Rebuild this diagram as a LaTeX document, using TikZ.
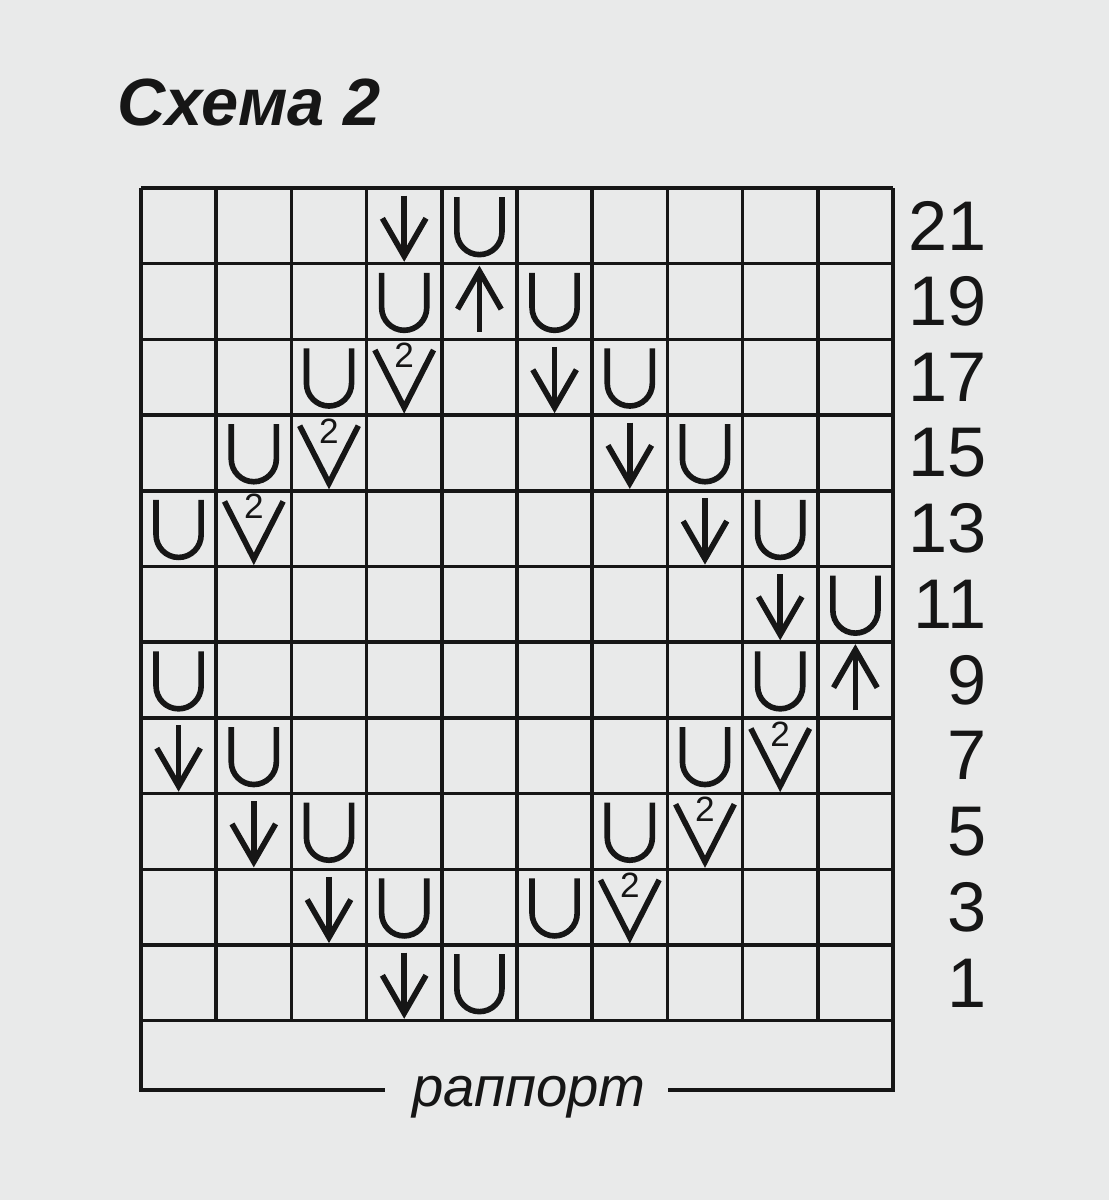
\documentclass[tikz,border=0pt]{standalone}
\usepackage{fontspec}
\setmainfont{Liberation Sans}
\definecolor{paper}{RGB}{233,234,234}
\definecolor{ink}{RGB}{22,22,22}
\tikzset{
  cell/.style={draw=ink, line width=1pt},
  sym/.style={draw=ink, line width=1.6pt},
  rownum/.style={anchor=east, inner sep=0pt, text=ink, font=\fontsize{20}{24}\selectfont},
  pics/yo/.style={code={
    \draw[sym] (-0.3,-0.38) -- (-0.3,0.08)
      arc[start angle=180, end angle=0, x radius=0.3, y radius=0.3] -- (0.3,-0.38);}},
  pics/dn/.style={code={
    \draw[sym] (0,-0.4) -- (0,0.4);
    \draw[sym] (-0.29,-0.1) -- (0,0.4) -- (0.29,-0.1);}},
  pics/up/.style={code={
    \draw[sym] (0,0.4) -- (0,-0.4);
    \draw[sym] (-0.29,0.1) -- (0,-0.4) -- (0.29,0.1);}},
  pics/vt/.style={code={
    \draw[sym] (-0.39,-0.36) -- (0,0.4) -- (0.39,-0.36);
    \node[inner sep=0pt, text=ink, font=\fontsize{10}{12}\selectfont] (-two) at (0,-0.29) {2};}},
}

\begin{document}
\begin{tikzpicture}[x=1cm,y=-1cm]
    \fill[paper] (0,0) rectangle (11.09,12.00);
    \useasboundingbox (0,0) rectangle (11.09,12.00);

    \node[anchor=base west, inner sep=0pt, text=ink,
      font=\fontsize{19}{24}\bfseries\itshape\selectfont] (title) at (1.17,1.25) {Схема 2};

    \begin{scope}[shift={(1.41,1.88)}, x=0.752cm, y=-0.757cm]
      % chart grid
      \foreach \i in {0,...,10} {
        \draw[cell] (\i,0) -- (\i,11);
      }
      \foreach \j in {0,...,11} {
        \draw[cell] (0,\j) -- (10,\j);
      }
      % repeat bracket
      \coordinate (rapL) at (3.24,11.915);
      \coordinate (rapR) at (7.01,11.915);
      \draw[cell] (0,11) |- (rapL);
      \draw[cell] (10,11) |- (rapR);
      % stitches
      \foreach \c/\r/\s in {
        4/1/dn, 5/1/yo,
        4/2/yo, 5/2/up, 6/2/yo,
        3/3/yo, 4/3/vt, 6/3/dn, 7/3/yo,
        2/4/yo, 3/4/vt, 7/4/dn, 8/4/yo,
        1/5/yo, 2/5/vt, 8/5/dn, 9/5/yo,
        9/6/dn, 10/6/yo,
        1/7/yo, 9/7/yo, 10/7/up,
        1/8/dn, 2/8/yo, 8/8/yo, 9/8/vt,
        2/9/dn, 3/9/yo, 7/9/yo, 8/9/vt,
        3/10/dn, 4/10/yo, 6/10/yo, 7/10/vt,
        4/11/dn, 5/11/yo%
      } {
        \pic (s\c-\r) at (\c-0.5,\r-0.5) {\s};
      }
      % row numbers
      \foreach \r/\n in {1/21, 2/19, 3/17, 4/15, 5/13, 6/11, 7/9, 8/7, 9/5, 10/3, 11/1} {
        \node[rownum] (row\n) at (11.25,\r-0.5) {\n};
      }
    \end{scope}

    \node[anchor=base, inner sep=0pt, text=ink,
      font=\fontsize{16}{20}\itshape\selectfont] (rapport) at (5.29,11.06) {раппорт};
\end{tikzpicture}
\end{document}
